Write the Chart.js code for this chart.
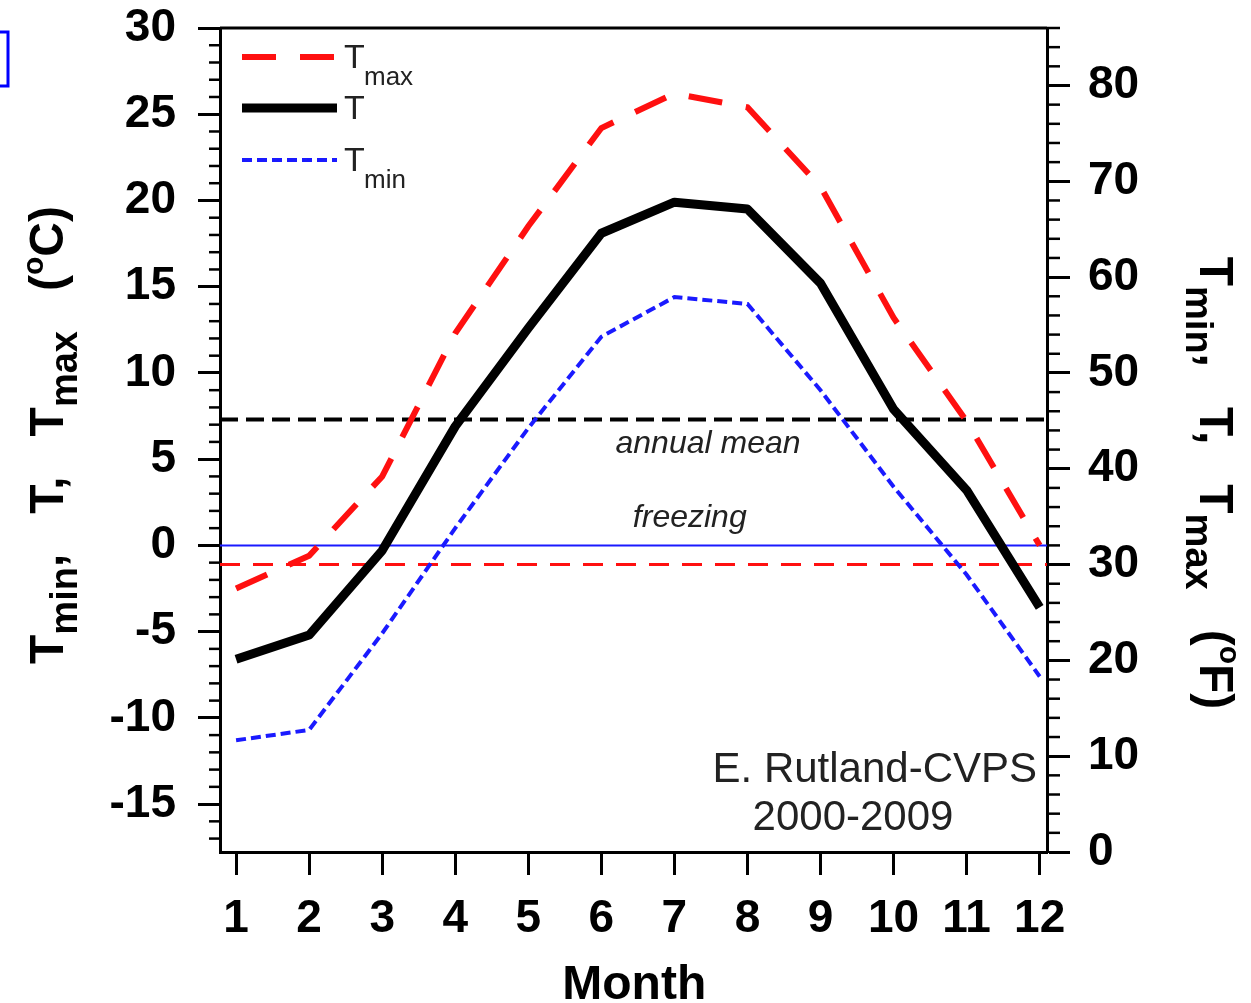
<!DOCTYPE html>
<html>
<head>
<meta charset="utf-8">
<script src="https://cdn.jsdelivr.net/npm/chart.js@4.4.1/dist/chart.umd.min.js"></script>
<style>
  html, body { margin: 0; padding: 0; background: #fff; }
  #wrap { width: 1251px; height: 1003px; position: relative; }
</style>
</head>
<body>
<div id="wrap"><canvas id="chart" width="1251" height="1003"></canvas></div>
<script>
// monthly climatology, E. Rutland-CVPS 2000-2009 (deg C)
const months = [1, 2, 3, 4, 5, 6, 7, 8, 9, 10, 11, 12];
const tMax  = [-2.5, -0.6, 4.0, 12.3, 18.5, 24.2, 26.2, 25.4, 20.8, 13.2, 7.2, 0.0];
const tMean = [-6.6, -5.2, -0.3, 6.9, 12.6, 18.1, 19.9, 19.5, 15.2, 7.9, 3.2, -3.6];
const tMin  = [-11.3, -10.7, -5.1, 1.0, 6.8, 12.1, 14.4, 14.0, 9.0, 3.4, -1.7, -7.6];

const annualMean = 7.3;   // deg C
const freezingC = 0;      // deg C
const redLineF = 30;      // deg F

const yTicksC = [-15, -10, -5, 0, 5, 10, 15, 20, 25, 30];
const yTicksF = [0, 10, 20, 30, 40, 50, 60, 70, 80];

const fMin = 0, fMax = 86;
const cMin = (fMin - 32) * 5 / 9, cMax = (fMax - 32) * 5 / 9;
const xMin = 0.78, xMax = 12.1;

const RED = '#ff1010', BLUE = '#1a1aff', BLACK = '#000';

function pts(arr) { return arr.map((v, i) => ({ x: months[i], y: v })); }
function flat(v) { return [{ x: xMin, y: v }, { x: xMax, y: v }]; }

// draw a row of text pieces (sub/superscripts) centred on cx, rotated
function drawRuns(ctx, runs, cx, cy, angle) {
  ctx.save();
  ctx.translate(cx, cy);
  ctx.rotate(angle);
  let total = 0;
  runs.forEach(r => { ctx.font = r.font; r.w = ctx.measureText(r.text).width; total += r.w; });
  let x = -total / 2;
  ctx.textAlign = 'left';
  ctx.textBaseline = 'alphabetic';
  ctx.fillStyle = BLACK;
  runs.forEach(r => { ctx.font = r.font; ctx.fillText(r.text, x, r.dy || 0); x += r.w; });
  ctx.restore();
}

function titleRuns(unit) {
  const M = 'bold 48px "Liberation Sans", Arial, sans-serif';
  const S = 'bold 38px "Liberation Sans", Arial, sans-serif';
  const P = 'bold 30px "Liberation Sans", Arial, sans-serif';
  return [
    { text: 'T', font: M }, { text: 'min', font: S, dy: 14 }, { text: ',   ', font: M },
    { text: 'T,   T', font: M }, { text: 'max', font: S, dy: 14 },
    { text: '   (', font: M }, { text: 'o', font: P, dy: -20 }, { text: unit + ')', font: M }
  ];
}

const minorTicks = (from, to, step, skip) => {
  const out = [];
  for (let v = from; v <= to + 1e-9; v += step) if (Math.abs(v % skip) > 1e-9) out.push(v);
  return out;
};

const decorPlugin = {
  id: 'decor',
  afterDraw(chart) {
    const ctx = chart.ctx;
    const a = chart.chartArea;
    const x = chart.scales.x, yc = chart.scales.y, yf = chart.scales.yF;

    ctx.save();
    ctx.strokeStyle = BLACK;
    ctx.lineWidth = 3;
    // top frame
    ctx.beginPath(); ctx.moveTo(a.left, a.top); ctx.lineTo(a.right, a.top); ctx.stroke();
    // minor ticks
    ctx.lineWidth = 2.5;
    minorTicks(-17, 30, 1, 5).forEach(v => {
      const p = yc.getPixelForValue(v);
      ctx.beginPath(); ctx.moveTo(a.left, p); ctx.lineTo(a.left - 11, p); ctx.stroke();
    });
    minorTicks(0, 86, 2, 10).forEach(v => {
      const p = yf.getPixelForValue(v);
      ctx.beginPath(); ctx.moveTo(a.right, p); ctx.lineTo(a.right + 13, p); ctx.stroke();
    });

    // legend
    const legend = [
      { ds: chart.data.datasets[1], sub: 'max', y: 57 },
      { ds: chart.data.datasets[0], sub: '', y: 108 },
      { ds: chart.data.datasets[2], sub: 'min', y: 160 }
    ];
    legend.forEach(l => {
      ctx.save();
      ctx.strokeStyle = l.ds.borderColor;
      ctx.lineWidth = l.ds.borderWidth;
      ctx.setLineDash(l.ds.borderDash || []);
      ctx.beginPath(); ctx.moveTo(a.left + 22, l.y); ctx.lineTo(a.left + 117, l.y); ctx.stroke();
      ctx.restore();
      ctx.fillStyle = '#222';
      ctx.textAlign = 'left';
      ctx.textBaseline = 'alphabetic';
      ctx.font = '34px "Liberation Sans", Arial, sans-serif';
      ctx.fillText('T', a.left + 124, l.y + 11);
      if (l.sub) {
        ctx.font = '26px "Liberation Sans", Arial, sans-serif';
        ctx.fillText(l.sub, a.left + 144, l.y + 28);
      }
    });

    // annotations
    ctx.fillStyle = '#222';
    ctx.font = 'italic 32px "Liberation Sans", Arial, sans-serif';
    ctx.textAlign = 'center';
    ctx.fillText('annual mean', x.getPixelForValue(7.46), yc.getPixelForValue(annualMean) + 34);
    ctx.fillText('freezing', x.getPixelForValue(7.21), yc.getPixelForValue(freezingC) - 18);
    ctx.font = '42px "Liberation Sans", Arial, sans-serif';
    ctx.textAlign = 'right';
    ctx.fillText('E. Rutland-CVPS', a.right - 10, 782);
    ctx.textAlign = 'center';
    ctx.fillText('2000-2009', 853, 830);

    // axis titles
    ctx.font = 'bold 48px "Liberation Sans", Arial, sans-serif';
    ctx.fillStyle = BLACK;
    ctx.fillText('Month', x.getPixelForValue(6.45), 999);
    drawRuns(ctx, titleRuns('C'), 63, 435, -Math.PI / 2);
    drawRuns(ctx, titleRuns('F'), 1200, 483, Math.PI / 2);

    // small blue mark at the top-left edge
    ctx.strokeStyle = '#0000ff';
    ctx.lineWidth = 3;
    ctx.beginPath();
    ctx.moveTo(0, 32); ctx.lineTo(8, 32); ctx.lineTo(8, 86); ctx.lineTo(0, 86);
    ctx.stroke();
    ctx.restore();
  }
};

const bgPlugin = {
  id: 'bg',
  beforeDraw(chart) {
    const ctx = chart.ctx;
    ctx.save();
    ctx.fillStyle = '#fff';
    ctx.fillRect(0, 0, chart.width, chart.height);
    ctx.restore();
  }
};

const tickFont = { family: '"Liberation Sans", Arial, sans-serif', size: 46, weight: 'bold' };

function fixY(w) {
  return s => { s.width = w; s.paddingTop = 0; s.paddingBottom = 0; };
}

new Chart(document.getElementById('chart'), {
  type: 'line',
  data: {
    datasets: [
      { label: 'T', data: pts(tMean), borderColor: BLACK, borderWidth: 9, borderJoinStyle: 'round', order: 0 },
      { label: 'Tmax', data: pts(tMax), borderColor: RED, borderWidth: 6, borderDash: [34, 24], order: 1 },
      { label: 'Tmin', data: pts(tMin), borderColor: BLUE, borderWidth: 4, borderDash: [10, 5], order: 2 },
      { label: 'annual mean', data: flat(annualMean), borderColor: BLACK, borderWidth: 4, borderDash: [18, 8], order: 3 },
      { label: 'freezing', data: flat(freezingC), borderColor: BLUE, borderWidth: 2, order: 4 },
      { label: '30F', data: flat(redLineF), yAxisID: 'yF', borderColor: RED, borderWidth: 3, borderDash: [20, 13], order: 5 }
    ].map(d => Object.assign({ pointRadius: 0, fill: false, tension: 0, yAxisID: 'y' }, d))
  },
  options: {
    responsive: false,
    animation: false,
    events: [],
    layout: { padding: { top: 28, left: 0, right: 0, bottom: 0 } },
    plugins: { legend: { display: false }, tooltip: { enabled: false }, title: { display: false } },
    scales: {
      x: {
        type: 'linear', position: 'bottom', min: xMin, max: xMax,
        afterBuildTicks: s => { s.ticks = months.map(v => ({ value: v })); },
        afterFit: s => { s.height = 151; s.paddingLeft = 0; s.paddingRight = 0; },
        grid: { drawOnChartArea: false, drawTicks: true, tickLength: 23, tickWidth: 3, tickColor: BLACK },
        border: { display: true, color: BLACK, width: 3 },
        ticks: { font: tickFont, color: BLACK, padding: 17, maxRotation: 0, autoSkip: false }
      },
      y: {
        type: 'linear', position: 'left', min: cMin, max: cMax,
        afterBuildTicks: s => { s.ticks = yTicksC.map(v => ({ value: v })); },
        afterFit: fixY(220),
        grid: { drawOnChartArea: false, drawTicks: true, tickLength: 22, tickWidth: 3, tickColor: BLACK },
        border: { display: true, color: BLACK, width: 3 },
        ticks: { font: tickFont, color: BLACK, padding: 22 }
      },
      yF: {
        type: 'linear', position: 'right', min: fMin, max: fMax,
        afterBuildTicks: s => { s.ticks = yTicksF.map(v => ({ value: v })); },
        afterFit: fixY(204),
        grid: { drawOnChartArea: false, drawTicks: true, tickLength: 23, tickWidth: 3, tickColor: BLACK },
        border: { display: true, color: BLACK, width: 3 },
        ticks: { font: tickFont, color: BLACK, padding: 18 }
      }
    }
  },
  plugins: [bgPlugin, decorPlugin]
});
</script>
</body>
</html>
